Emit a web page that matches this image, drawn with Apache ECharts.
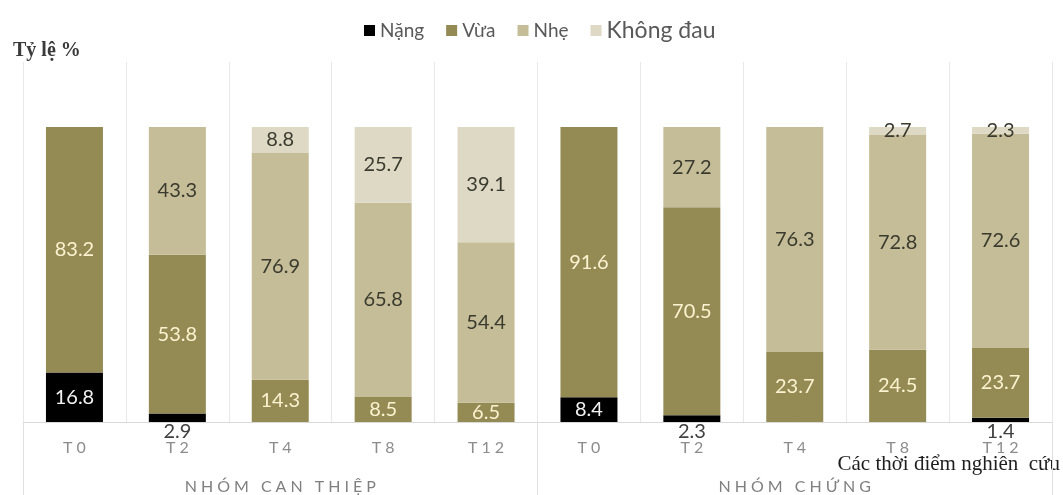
<!DOCTYPE html>
<html>
<head>
<meta charset="utf-8">
<script src="https://cdn.jsdelivr.net/npm/echarts@6/dist/echarts.min.js"></script>
<style>
  html, body { margin: 0; padding: 0; background: #ffffff; }
  #chart { width: 1063px; height: 495px; }
</style>
</head>
<body>
<div id="chart"></div>
<script>
// Time points (repeated for each study group) and the two groups
const timePoints = ['T0', 'T2', 'T4', 'T8', 'T12', 'T0', 'T2', 'T4', 'T8', 'T12'];
const groups = ['NHÓM CAN THIỆP', 'NHÓM CHỨNG'];

// Pain level shares (%) at each time point; 0 = not present
const nang      = [16.8, 2.9, 0,    0,    0,    8.4,  2.3,  0,    0,    1.4];
const vua       = [83.2, 53.8, 14.3, 8.5,  6.5,  91.6, 70.5, 23.7, 24.5, 23.7];
const nhe       = [0,    43.3, 76.9, 65.8, 54.4, 0,    27.2, 76.3, 72.8, 72.6];
const khongDau  = [0,    0,    8.8,  25.7, 39.1, 0,    0,    0,    2.7,  2.3];

const seriesNames = ['Nặng', 'Vừa', 'Nhẹ', 'Không đau'];
const seriesData = [nang, vua, nhe, khongDau];
const seriesColors = ['#000000', '#948a54', '#c4bd97', '#ddd9c4'];
const labelColors = ['#f2f2f2', '#fbf3d0', '#3a3a2e', '#3a3a2e'];

const FONT = 'Lato, "Noto Sans", sans-serif';
const spaced = (s, gap) => s.split('').join(gap);

const series = seriesNames.map((name, si) => ({
  name: name,
  type: 'bar',
  stack: 'total',
  barWidth: 57,
  itemStyle: { color: seriesColors[si] },
  data: seriesData[si].map(v => {
    const item = { value: v };
    // thin slices at the base carry their label just under the axis
    if (si === 0 && v > 0 && v < 5) {
      item.label = { position: 'bottom', distance: 0, color: '#404040' };
    }
    return item;
  }),
  label: {
    show: true,
    position: 'inside',
    fontFamily: FONT,
    fontSize: 20,
    color: labelColors[si],
    formatter: p => (p.value > 0 ? p.value.toFixed(1) : '')
  },
  emphasis: { disabled: true }
}));

const chart = echarts.init(document.getElementById('chart'), null, { renderer: 'canvas' });
chart.setOption({
  animation: false,
  backgroundColor: '#ffffff',
  legend: {
    left: 359,
    top: 14,
    itemWidth: 11,
    itemHeight: 11,
    itemGap: 22,
    icon: 'rect',
    textStyle: { fontFamily: FONT, fontSize: 19, color: '#595959' },
    data: [
      { name: 'Nặng' },
      { name: 'Vừa' },
      { name: 'Nhẹ' },
      { name: 'Không đau', textStyle: { fontSize: 23 } }
    ]
  },
  grid: { left: 23, right: 11, top: 62, bottom: 73 },
  xAxis: [
    {
      type: 'category',
      data: timePoints,
      boundaryGap: true,
      axisLine: { show: true, lineStyle: { color: '#d9d9d9', width: 1 } },
      axisTick: { show: false },
      splitLine: { show: true, lineStyle: { color: '#e8e8e8', width: 1 } },
      axisLabel: {
        interval: 0,
        margin: 18,
        fontFamily: FONT,
        fontSize: 16,
        color: '#8c8c8c',
        formatter: v => spaced(v, '\u2009\u2009')
      }
    },
    {
      type: 'category',
      data: groups,
      position: 'bottom',
      boundaryGap: true,
      axisLine: { show: false },
      axisTick: { show: true, length: 73, interval: 0, lineStyle: { color: '#e0e0e0' } },
      splitLine: { show: false },
      axisLabel: {
        interval: 0,
        margin: 57,
        fontFamily: FONT,
        fontSize: 16,
        color: '#7f7f7f',
        formatter: v => spaced(v, '\u2009\u2009')
      }
    }
  ],
  yAxis: {
    type: 'value',
    min: 0,
    max: 122,
    show: false,
    splitLine: { show: false }
  },
  graphic: [
    {
      type: 'text',
      left: 13,
      top: 41,
      style: {
        text: 'Tỷ lệ %',
        font: 'bold 20px "Liberation Serif", "DejaVu Serif", serif',
        fill: '#3a3a3a'
      }
    },
    {
      type: 'text',
      right: 3,
      top: 454,
      style: {
        text: 'Các thời điểm nghiên  cứu',
        font: '21px "Liberation Serif", "DejaVu Serif", serif',
        fill: '#1e1e1e'
      }
    }
  ],
  series: series
});
</script>
</body>
</html>
